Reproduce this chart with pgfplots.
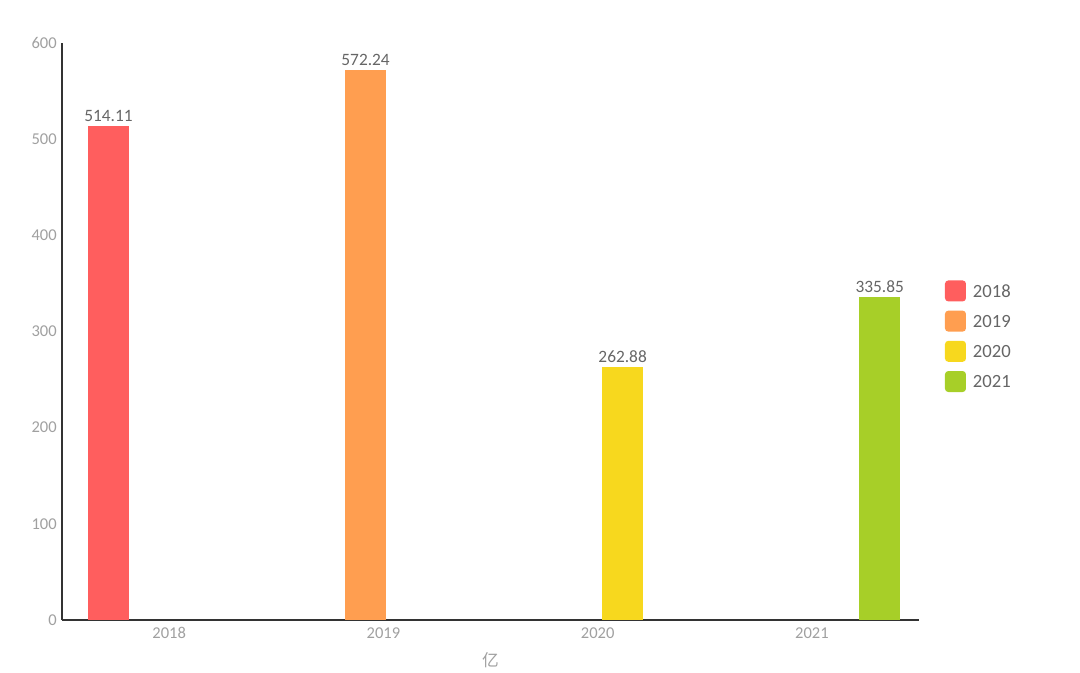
\documentclass[border=0pt]{standalone}
\usepackage{pgfplots}
\pgfplotsset{compat=1.18}
\usepackage{fontspec}
\setmainfont{Carlito}
\newfontfamily\cjk{Noto Sans CJK SC}
\definecolor{cA}{HTML}{FF5E5E}
\definecolor{cB}{HTML}{FF9E50}
\definecolor{cC}{HTML}{F7D81E}
\definecolor{cD}{HTML}{A7CF28}
\definecolor{tick}{HTML}{A0A0A0}
\definecolor{val}{HTML}{666666}
\definecolor{axisc}{HTML}{333333}
\begin{document}
\begin{tikzpicture}
\useasboundingbox (0pt,0pt) rectangle (810pt,504pt);
\begin{axis}[
  at={(46.5pt,39pt)}, anchor=south west,
  scale only axis, width=642.75pt, height=432.75pt,
  ybar,
  /pgf/number format/assume math mode=true,
  xmin=-0.5, xmax=3.5, ymin=0, ymax=600,
  xtick={0,1,2,3}, xticklabels={2018,2019,2020,2021},
  ytick={0,100,200,300,400,500,600},
  major tick length=0pt,
  axis x line*=bottom, axis y line*=left,
  axis line style={draw=axisc, line width=1.1pt, -},
  tick label style={text=tick, font=\fontsize{12.4}{14}\selectfont},
  yticklabel style={inner sep=0pt, anchor=east, xshift=-3.75pt},
  xticklabel style={inner sep=0pt, anchor=north, yshift=-5.25pt},
  xlabel={\cjk 亿},
  xlabel style={at={(axis description cs:0.5,0)}, anchor=center, yshift=-30pt, text=tick, font=\fontsize{12.5}{14}\selectfont},
  bar width=30.75pt,
  nodes near coords={\pgfmathprintnumber[fixed,precision=2,fixed zerofill,assume math mode=true]{\pgfplotspointmeta}},
  nodes near coords style={anchor=south, inner sep=0pt, yshift=3pt, text=val, font=\fontsize{13}{15}\selectfont},
  legend style={draw=none, fill=none, at={(1.03,0.589)}, anchor=north west, inner sep=0pt, row sep=6.9pt,
    font=\fontsize{14}{16}\selectfont, text=val,
    nodes={inner sep=0pt},
    /tikz/every odd column/.style={column sep=5.25pt}},
  legend cell align=left,
  clip=false,
]
\addplot[fill=cA, draw=none, bar shift=-45.45pt, legend image code/.code={\fill[cA, rounded corners=2.5pt] (0pt,-7.25pt) rectangle (15.75pt,8.5pt);}] coordinates {(0,514.11)};
\addplot[fill=cB, draw=none, bar shift=-13.35pt, legend image code/.code={\fill[cB, rounded corners=2.5pt] (0pt,-7.25pt) rectangle (15.75pt,8.5pt);}] coordinates {(1,572.24)};
\addplot[fill=cC, draw=none, bar shift=18.75pt, legend image code/.code={\fill[cC, rounded corners=2.5pt] (0pt,-7.25pt) rectangle (15.75pt,8.5pt);}] coordinates {(2,262.88)};
\addplot[fill=cD, draw=none, bar shift=50.85pt, legend image code/.code={\fill[cD, rounded corners=2.5pt] (0pt,-7.25pt) rectangle (15.75pt,8.5pt);}] coordinates {(3,335.85)};
\legend{2018,2019,2020,2021}
\end{axis}
\end{tikzpicture}
\end{document}
